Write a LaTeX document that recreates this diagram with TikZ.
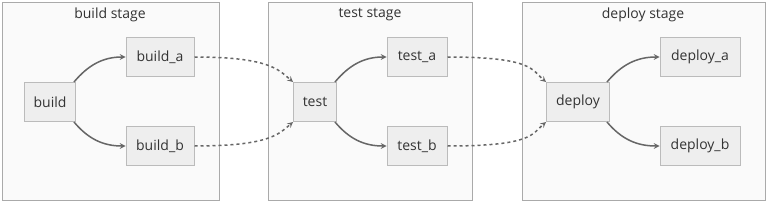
\documentclass[tikz,border=0pt]{standalone}
\usepackage{fontspec}
\setmainfont{Open Sans}
\usetikzlibrary{positioning}
\definecolor{stagefill}{HTML}{FAFAFA}
\definecolor{stageline}{HTML}{AAAAAA}
\definecolor{jobfill}{HTML}{EEEEEE}
\definecolor{jobline}{HTML}{BBBBBB}
\definecolor{edgegray}{HTML}{666666}
\definecolor{txt}{HTML}{333333}
\tikzset{
  stage/.style={draw=stageline, fill=stagefill, line width=1pt},
  stagetitle/.style={text=txt, inner sep=0pt, font=\fontsize{14}{16}\selectfont},
  job/.style={draw=jobline, fill=jobfill, line width=1pt, minimum height=39pt, inner sep=0pt, text=txt, font=\fontsize{14}{16}\selectfont},
  flow/.style={->, draw=edgegray, line width=1.5pt},
  needs/.style={->, draw=edgegray, line width=1.5pt, dash pattern=on 3pt off 3pt},
}
\begin{document}
\begin{tikzpicture}[>=stealth, x=1pt, y=-1pt]
\useasboundingbox (0,0) rectangle (767,203);
% stages
\draw[stage](2,3) rectangle (219,200);
\draw[stage](268,3) rectangle (472,200);
\draw[stage](522,3) rectangle (765,200);
\node[stagetitle] (buildT) at (110,15) {build stage};
\node[stagetitle] (testT) at (370,15) {test stage};
\node[stagetitle] (deployT) at (643,15) {deploy stage};
% jobs
\node[job, minimum width=51pt] (build) at (50,102) {build};
\node[job, minimum width=68pt] (build_a) at (160,57) {build\_a};
\node[job, minimum width=68pt] (build_b) at (160,146) {build\_b};
\node[job, minimum width=43pt] (test) at (315,102) {test};
\node[job, minimum width=60pt] (test_a) at (417,57) {test\_a};
\node[job, minimum width=60pt] (test_b) at (417,146) {test\_b};
\node[job, minimum width=63pt] (deploy) at (578,102) {deploy};
\node[job, minimum width=80pt] (deploy_a) at (700,57) {deploy\_a};
\node[job, minimum width=80pt] (deploy_b) at (700,146) {deploy\_b};
% inside a stage
\draw[flow]([xshift=-2pt]build.north east) to[out=50,in=180] (build_a.west);
\draw[flow]([xshift=-2pt]build.south east) to[out=-50,in=180] (build_b.west);
\draw[flow]([xshift=-2pt]test.north east) to[out=50,in=180] (test_a.west);
\draw[flow]([xshift=-2pt]test.south east) to[out=-50,in=180] (test_b.west);
\draw[flow]([xshift=-3pt]deploy.north east) to[out=50,in=180] (deploy_a.west);
\draw[flow]([xshift=-3pt]deploy.south east) to[out=-50,in=180] (deploy_b.west);
% between stages
\draw[needs](build_a.east) .. controls +(75,0) and +(-14,-12) .. (test.north west);
\draw[needs](build_b.east) .. controls +(75,0) and +(-14,12) .. (test.south west);
\draw[needs](test_a.east) .. controls +(85,0) and +(-14,-12) .. (deploy.north west);
\draw[needs](test_b.east) .. controls +(85,0) and +(-14,12) .. (deploy.south west);
\end{tikzpicture}
\end{document}
